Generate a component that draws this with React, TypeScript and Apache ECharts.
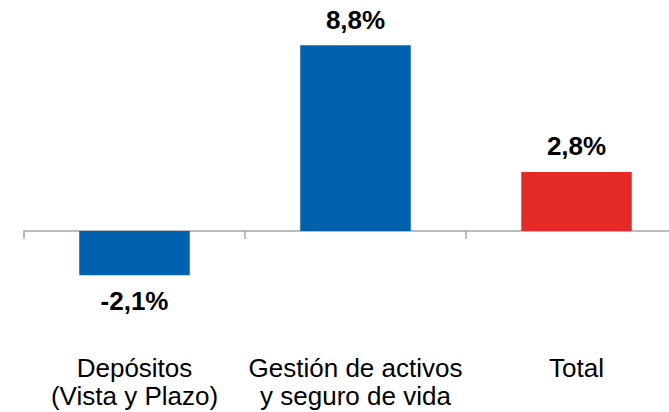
import React, { useEffect, useRef } from "react";
import * as echarts from "echarts";

const categories = ["Depósitos\n(Vista y Plazo)", "Gestión de activos\ny seguro de vida", "Total"];
const values = [-2.1, 8.8, 2.8];
const barColors = ["#0061AF", "#0061AF", "#E42A27"];

export default function App() {
  const ref = useRef<HTMLDivElement>(null);
  useEffect(() => {
    const chart = echarts.init(ref.current!, null, { renderer: "svg" });
    chart.setOption({
      animation: false,
      grid: { left: 24, right: -18, top: 20, bottom: 96.6, containLabel: false, outerBoundsMode: "none" },
      xAxis: {
        type: "category",
        data: categories,
        axisLine: { onZero: true, lineStyle: { color: "#a6a6a6", width: 1.5 } },
        axisTick: { show: true, length: 8, lineStyle: { color: "#a6a6a6", width: 1.5 } },
        axisLabel: {
          interval: 0,
          hideOverlap: false,
          margin: 38.5,
          fontFamily: "Liberation Sans, Arial, sans-serif",
          fontSize: 26,
          lineHeight: 28,
          color: "#000",
        },
      },
      yAxis: {
        type: "value",
        min: -4,
        max: 10,
        show: false,
        splitLine: { show: false },
      },
      series: [
        {
          type: "bar",
          barWidth: "50%",
          data: values.map((v, i) => ({ value: v, itemStyle: { color: barColors[i] } })),
          label: {
            show: true,
            position: "outside",
            distance: 12.5,
            fontFamily: "Liberation Sans, Arial, sans-serif",
            fontSize: 26,
            fontWeight: "bold",
            color: "#000",
            formatter: (p: any) => String(p.value.toFixed(1)).replace(".", ",") + "%",
          },
        },
      ],
    });
    return () => chart.dispose();
  }, []);
  return <div ref={ref} style={{ width: 669, height: 412, position: "absolute", left: 0, top: 0 }} />;
}
